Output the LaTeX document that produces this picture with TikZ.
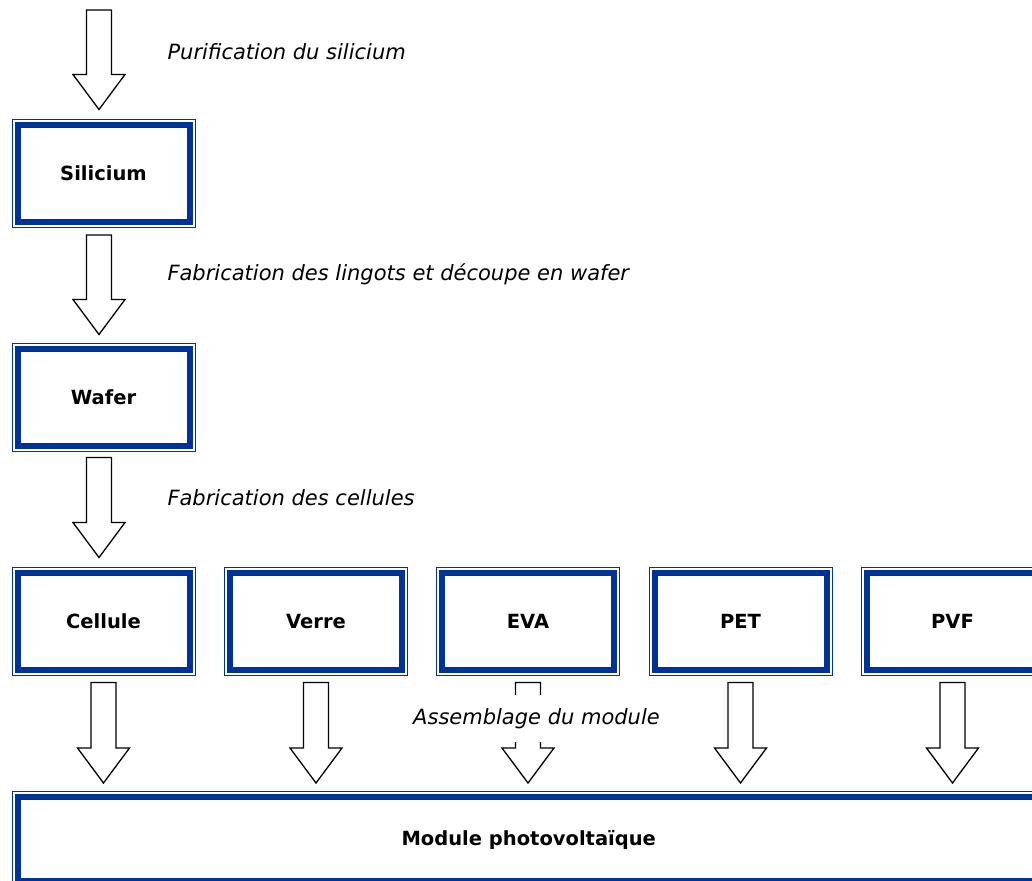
\documentclass[tikz,border=0pt]{standalone}
\usepackage{fontspec}
\setmainfont{DejaVu Sans}
\usetikzlibrary{calc}

\definecolor{bleucadre}{RGB}{0,51,153}

\tikzset{
  etape/.style={draw=bleucadre, line width=6pt, outer sep=0pt, inner sep=0pt,
    minimum width=172pt, minimum height=97pt,
    font=\bfseries\fontsize{19.5}{23}\selectfont, text height=14pt, text depth=0pt},
  cadre/.style={draw=bleucadre, line width=1pt},
  fleche/.style={draw=black, line width=1.3pt, line join=miter, fill=white},
  procede/.style={anchor=base west, font=\itshape\fontsize{21}{25}\selectfont},
}

\newcommand{\flechebloc}[2]{%
  \path #1 coordinate (fh) #2 coordinate (fb) ;
  \draw[fleche] ($(fh)+(-12.5,0)$) -- ($(fb)+(-12.5,-35)$) -- ($(fb)+(-26,-35)$) -- (fb)
    -- ($(fb)+(26,-35)$) -- ($(fb)+(12.5,-35)$) -- ($(fh)+(12.5,0)$) -- cycle ;}

\begin{document}
\begin{tikzpicture}[x=1pt,y=-1pt]

\useasboundingbox (0,0) rectangle (1032,880) ;

\node[etape] (sil) at (103.5,173.5) {Silicium} ;
\node[etape] (waf) at (103.5,397.5) {Wafer} ;

\foreach \n/\t/\x in {cel/Cellule/103.5, ver/Verre/316, eva/EVA/528, pet/PET/740.5, pvf/PVF/952.5}
  \node[etape] (\n) at (\x,621.5) {\t} ;

\node[etape, minimum width=1022.5pt, minimum height=84.5pt] (mod) at (528.75,838.75) {Module photovoltaïque} ;

\foreach \n in {sil,waf,cel,ver,eva,pet,pvf,mod}
  \draw[cadre] ([shift={(-5.5,-5.5)}]\n.north west) rectangle ([shift={(5.5,5.5)}]\n.south east) ;

\coordinate (depart) at (99,10) ;

\flechebloc{(depart)}{([shift={(-4.5,-15.5)}]sil.north)}
\flechebloc{([shift={(-4.5,13)}]sil.south)}{([shift={(-4.5,-14.5)}]waf.north)}
\flechebloc{([shift={(-4.5,11.5)}]waf.south)}{([shift={(-4.5,-15.5)}]cel.north)}

\foreach \n in {cel,ver,eva,pet,pvf} {
  \flechebloc{([shift={(0,12.5)}]\n.south)}{($(\n.south |- mod.north)+(0,-13.5)$)}
}

\node[procede] (purif) at (164,60) {Purification du silicium} ;
\node[procede] (lingots) at (164,280) {Fabrication des lingots et découpe en wafer} ;
\node[procede] (cellules) at (164,505) {Fabrication des cellules} ;
\node[procede, anchor=center, fill=white, minimum height=47pt, inner sep=0pt] (assemblage) at (536.5,718.5) {Assemblage du module} ;

\end{tikzpicture}
\end{document}
